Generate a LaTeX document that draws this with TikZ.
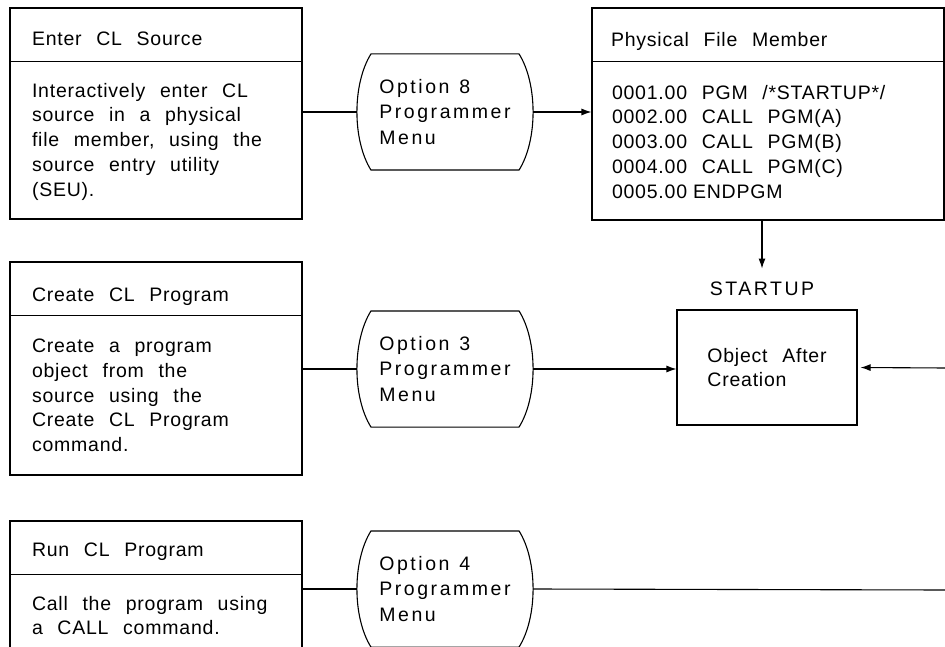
\documentclass[tikz,border=0pt]{standalone}
\usepackage{fontspec}
\newfontfamily\diagfont[LetterSpace=4]{Liberation Sans}
\newfontfamily\menufont[LetterSpace=13]{Liberation Sans}
\newcommand\diagtext{\diagfont\fontsize{19.5}{24.75}\selectfont\spaceskip=0.75em\relax}
\newcommand\menutext{\menufont\fontsize{19.5}{25.5}\selectfont\spaceskip=0.5em\relax}
\usetikzlibrary{positioning,arrows.meta}
\tikzset{>={Latex[length=10pt,width=7pt]}}

\begin{document}
\begin{tikzpicture}[x=1pt,y=-1pt,line width=1.1pt,
    every node/.style={font=\diagtext},
    box/.style={draw,rectangle,inner sep=0pt,minimum width=292pt},
    term/.style={rectangle,inner sep=0pt,minimum width=175pt,minimum height=115pt,align=left,font=\menutext},
    title/.style={anchor=base west,inner sep=0pt},
    body/.style={anchor=north west,inner sep=0pt,align=left}]
  \path[use as bounding box,clip] (0,0) rectangle (945,647);

  % boxes
  \node[box,minimum height=211pt]                     (enter)  at (156,113.5) {};
  \node[box,minimum width=352pt,minimum height=212pt] (pfm)    at (768,114)   {};
  \node[box,minimum height=213pt]                     (create) at (156,368.5) {};
  \node[box,minimum height=160pt]                     (run)    at (156,601)   {};
  \node[box,minimum width=180pt,minimum height=115pt,align=left] (obj) at (767,367.5) {Object After\\Creation};
  \node[inner sep=2pt,font=\menutext] (startup) [above=11pt of obj,xshift=-5pt] {STARTUP};

  % menus
  \node[term] (opt8) at (445,112) {Option 8\\Programmer\\Menu};
  \node[term] (opt3) at (445,369) {Option 3\\Programmer\\Menu};
  \node[term] (opt4) at (445,589) {Option 4\\Programmer\\Menu};

  % titles and texts
  \node[title] (enter-t)  at ([shift={(22,38)}]enter.north west)  {Enter CL Source};
  \node[body]  (enter-b)  at ([shift={(22,75)}]enter.north west)  {Interactively enter CL\\source in a physical\\file member, using the\\source entry utility\\(SEU).};
  \node[title] (pfm-t)    at ([shift={(19,39)}]pfm.north west)    {Physical File Member};
  \node[body]  (pfm-b)    at ([shift={(20,77)}]pfm.north west)    {0001.00 PGM /*STARTUP*/\\0002.00 CALL PGM(A)\\0003.00 CALL PGM(B)\\0004.00 CALL PGM(C)\\0005.00\hspace{0.3em}ENDPGM};
  \node[title] (create-t) at ([shift={(22,40)}]create.north west) {Create CL Program};
  \node[body]  (create-b) at ([shift={(22,77)}]create.north west) {Create a program\\object from the\\source using the\\Create CL Program\\command.};
  \node[title] (run-t)    at ([shift={(22,36)}]run.north west)    {Run CL Program};
  \node[body]  (run-b)    at ([shift={(22,75)}]run.north west)    {Call the program using\\a CALL command.};

  \foreach \b in {enter,pfm,create,run}
    \draw ([yshift=-54pt]\b.north west) -- ([yshift=-54pt]\b.north east);

  \foreach \t in {opt8,opt3,opt4}
    \draw ([xshift=14pt]\t.north west) -- ([xshift=-14pt]\t.north east)
      .. controls ([xshift=4.7pt,yshift=-30pt]\t.north east) and ([xshift=4.7pt,yshift=30pt]\t.south east) .. ([xshift=-14pt]\t.south east)
      -- ([xshift=14pt]\t.south west)
      .. controls ([xshift=-4.7pt,yshift=30pt]\t.south west) and ([xshift=-4.7pt,yshift=-30pt]\t.north west) .. cycle;

  % connectors
  \coordinate (edge3) at (946,368);
  \coordinate (edge4) at (946,590);
  \draw (enter.east |- opt8.west) -- (opt8.west);
  \draw[->] (opt8.east) -- (opt8.east -| pfm.west);
  \draw (create.east |- opt3.west) -- (opt3.west);
  \draw[->] (opt3.east) -- (opt3.east -| obj.west);
  \draw (run.east |- opt4.west) -- (opt4.west);
  \draw (opt4.east) -- (edge4);
  \draw[->,shorten >=3pt] (edge3) -- (obj.east);
  \draw[->,shorten >=11pt] (pfm.south -| startup) -- (startup.north);
\end{tikzpicture}
\end{document}
